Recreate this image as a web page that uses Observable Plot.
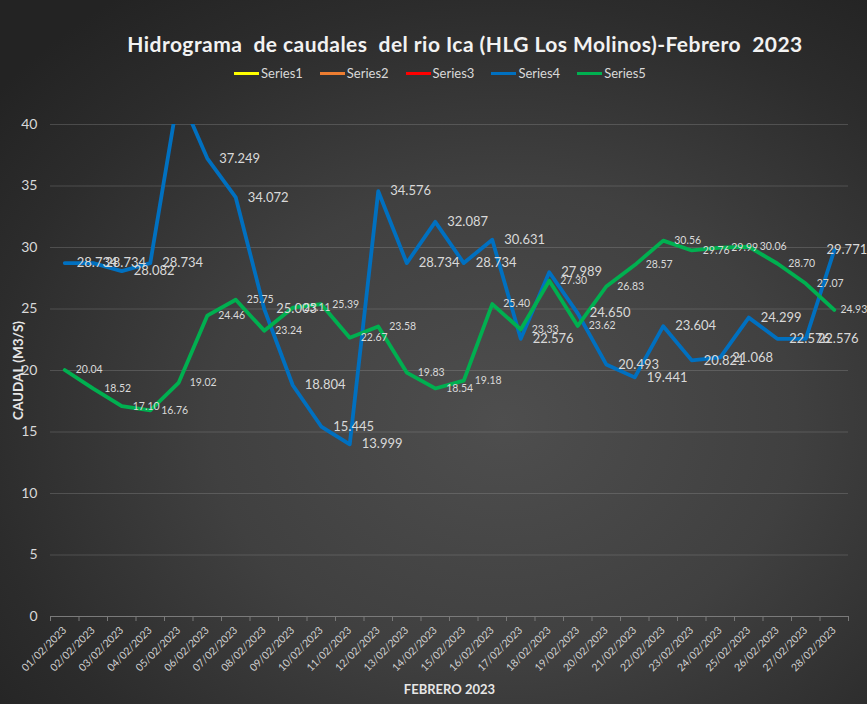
<!DOCTYPE html>
<html><head><meta charset="utf-8">
<script src="https://cdn.jsdelivr.net/npm/d3@7"></script>
<script src="https://cdn.jsdelivr.net/npm/@observablehq/plot@0.6"></script>
<style>
html,body{margin:0;padding:0;}
body{width:867px;height:704px;overflow:hidden;position:relative;
 background: radial-gradient(ellipse 75% 75% at 58% 60%, #4e4e4e 0%, #404040 45%, #2c2c2c 80%, #232323 100%);
 font-family:Lato,"Open Sans",sans-serif;}
#head{height:90px;position:relative;}
#title{position:absolute;left:0;width:930px;top:31px;text-align:center;color:#f2f2f2;font-size:21px;font-weight:bold;letter-spacing:0.45px;white-space:pre;}
#legend{position:absolute;left:0;width:880px;top:65px;display:flex;justify-content:center;gap:17px;color:#d9d9d9;font-size:13px;}
.item{display:flex;align-items:center;gap:2px;}
.sw{width:25px;height:3px;display:inline-block;}
svg{display:block;}
</style></head>
<body>
<div id="head"><div id="title"></div><div id="legend"></div></div>
<div id="chart"></div>
<script>
const titleText = "Hidrograma  de caudales  del rio Ica (HLG Los Molinos)-Febrero  2023";
const yTitle = "CAUDAL (M3/S)";
const xTitle = "FEBRERO 2023";
const seriesNames = ["Series1","Series2","Series3","Series4","Series5"];
const dates = ["01/02/2023","02/02/2023","03/02/2023","04/02/2023","05/02/2023","06/02/2023","07/02/2023",
 "08/02/2023","09/02/2023","10/02/2023","11/02/2023","12/02/2023","13/02/2023","14/02/2023",
 "15/02/2023","16/02/2023","17/02/2023","18/02/2023","19/02/2023","20/02/2023","21/02/2023",
 "22/02/2023","23/02/2023","24/02/2023","25/02/2023","26/02/2023","27/02/2023","28/02/2023"];
const series4 = [28.734,28.734,28.082,28.734,42.6,37.249,34.072,25.003,18.804,15.445,13.999,34.576,28.734,32.087,
 28.734,30.631,22.576,27.989,24.650,20.493,19.441,23.604,20.821,21.068,24.299,22.576,22.576,29.771];
const series5 = [20.04,18.52,17.10,16.76,19.02,24.46,25.75,23.24,25.11,25.39,22.67,23.58,19.83,18.54,
 19.18,25.40,23.33,27.30,23.62,26.83,28.57,30.56,29.76,29.99,30.06,28.70,27.07,24.93];
const yTicks = [0,5,10,15,20,25,30,35,40];

const palette = ["#FFFF00","#ED7D31","#FF0000","#0070C0","#00B050"];

document.getElementById("title").textContent = titleText;
const leg = document.getElementById("legend");
seriesNames.forEach((s,k)=>{
  const it = document.createElement("div"); it.className="item";
  const sw = document.createElement("span"); sw.className="sw"; sw.style.background=palette[k];
  const tx = document.createElement("span"); tx.textContent=s;
  it.appendChild(sw); it.appendChild(tx); leg.appendChild(it);
});

const rows = [];
dates.forEach((d,i)=>{
  rows.push({i:i+1, date:d, series:"Series4", v:series4[i]});
  rows.push({i:i+1, date:d, series:"Series5", v:series5[i]});
});
const n = dates.length;
const yMax = yTicks[yTicks.length-1];
const blue = rows.filter(d=>d.series==="Series4" && d.v<=yMax);
const green = rows.filter(d=>d.series==="Series5" && d.v<=yMax);
const font = "Lato, Open Sans, sans-serif";

const chart = Plot.plot({
  width:867, height:614,
  marginTop:34, marginLeft:50, marginRight:19, marginBottom:88,
  style:{background:"transparent", color:"#d9d9d9", fontFamily:font, fontSize:"11px", overflow:"visible"},
  x:{domain:[0.5, n+0.5]},
  y:{domain:[0, yMax]},
  color:{domain:seriesNames, range:palette},
  marks:[
    Plot.gridY({ticks:yTicks.filter(t=>t>0), stroke:"#9a9a9a", strokeOpacity:0.3, strokeWidth:1}),
    Plot.ruleY([0], {stroke:"#7a7a7a"}),
    Plot.axisY({ticks:yTicks, tickSize:0, tickPadding:13, fontSize:14, label:null, fill:"#d9d9d9"}),
    Plot.axisX({ticks:d3.range(0.5, n+1, 1), tickSize:5, tickFormat:()=>"", label:null, stroke:"#7a7a7a"}),
    Plot.axisX({ticks:d3.range(1, n+1), tickSize:0, tickPadding:12, tickFormat:i=>dates[i-1], tickRotate:-45, fontSize:10.5, label:null, fill:"#d0d0d0"}),
    Plot.text([yTitle], {frameAnchor:"left", rotate:-90, textAnchor:"middle", dx:-32, fontWeight:"bold", fontSize:13.5, fill:"#e6e6e6"}),
    Plot.text([xTitle], {frameAnchor:"bottom", dy:77, fontWeight:"bold", fontSize:13, fill:"#e6e6e6"}),
    Plot.lineY(rows, {x:"i", y:"v", z:"series", stroke:"series", strokeWidth:3.8, clip:true}),
    Plot.text(blue.slice(0,-1), {x:"i", y:"v", text:d=>d.v.toFixed(3), textAnchor:"start", dx:12, fontSize:13, fill:"#d9d9d9"}),
    Plot.text(blue.slice(-1), {x:"i", y:"v", text:d=>d.v.toFixed(3), textAnchor:"end", dx:33, fontSize:13, fill:"#d9d9d9"}),
    Plot.text(green.slice(0,-1), {x:"i", y:"v", text:d=>d.v.toFixed(2), textAnchor:"start", dx:11, fontSize:10.5, fill:"#d9d9d9"}),
    Plot.text(green.slice(-1), {x:"i", y:"v", text:d=>d.v.toFixed(2), textAnchor:"end", dx:33, fontSize:10.5, fill:"#d9d9d9"})
  ]
});
document.getElementById("chart").appendChild(chart);
</script>
</body></html>
